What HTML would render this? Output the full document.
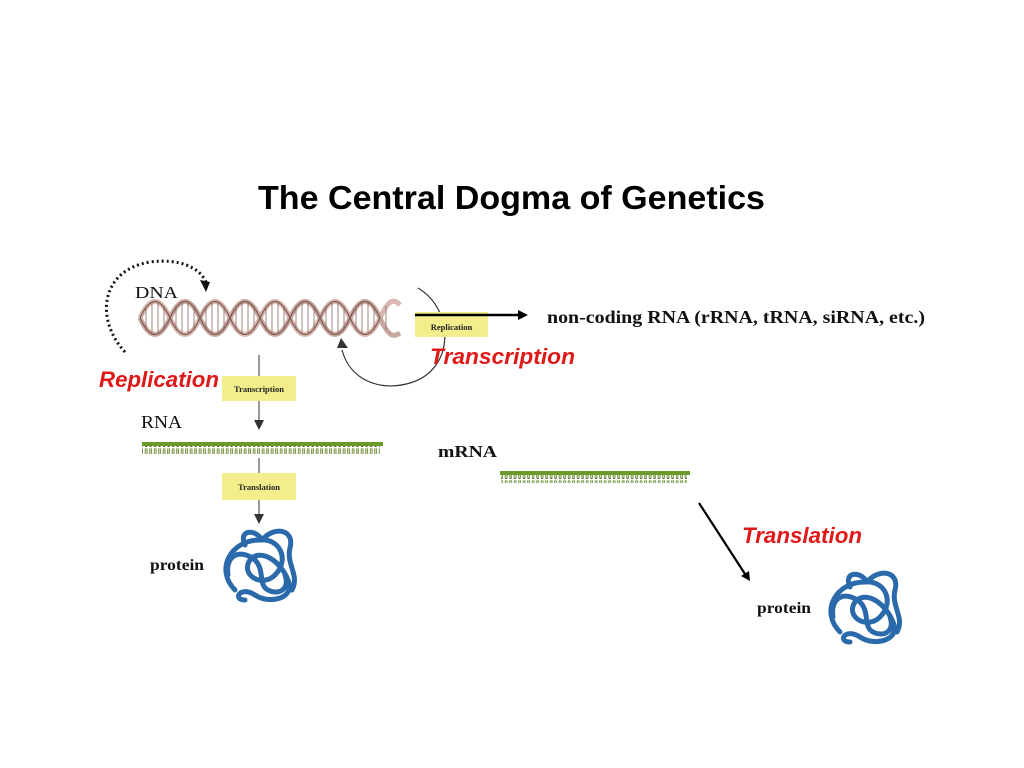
<!DOCTYPE html>
<html><head><meta charset="utf-8"><style>
body{margin:0;background:#fff;}
svg{display:block}
.s{font-family:"Liberation Serif",serif;fill:#111}
.r{font-family:"Liberation Sans",sans-serif;font-weight:bold;font-style:italic;fill:#e01818;font-size:22.5px}
.b{font-family:"Liberation Serif",serif;font-weight:bold;font-size:8.5px;fill:#222}
</style></head><body>
<svg width="1024" height="768" viewBox="0 0 1024 768">
<defs>
<pattern id="teeth" width="4.5" height="8" patternUnits="userSpaceOnUse"><rect x="0.8" y="0" width="2.6" height="7" rx="1" fill="#4a6a20"/><rect x="1.4" y="0" width="1.4" height="6" fill="#c8dca0"/></pattern>
<g id="prot" fill="none" stroke="#2a6aaa" stroke-width="5" stroke-linecap="round">
<path d="M235,590 C215,570 230,540 260,540 C280,538 290,560 275,575 C262,588 240,575 250,560 C260,548 280,560 288,580 C296,598 270,605 255,595 C240,585 232,600 245,600"/>
<path d="M262,540 C275,525 295,530 290,548 C286,565 300,575 292,590"/>
<path d="M228,575 C225,555 240,548 255,560 C265,570 258,585 268,590 C280,596 290,588 285,575"/>
<path d="M245,545 C238,530 255,528 262,540"/>
</g>
</defs>
<text x="258" y="209" font-family="Liberation Sans,sans-serif" font-weight="bold" font-size="33" fill="#000" textLength="507" lengthAdjust="spacingAndGlyphs">The Central Dogma of Genetics</text>

<path d="M125,352 C95,320 100,270 150,262 C180,258 200,268 206,282" fill="none" stroke="#111" stroke-width="3" stroke-dasharray="2,3"/>
<path d="M200,280 L210,282 L206,292 z" fill="#111"/>
<text x="135" y="298" class="s" font-size="17" textLength="43" lengthAdjust="spacingAndGlyphs">DNA</text>

<g fill="none" stroke="#7a5a50" stroke-width="1.2">
<path d="M140,318 C150,296 160,296 170,318 S190,340 200,318 S220,296 230,318 S250,340 260,318 S280,296 290,318 S310,340 320,318 S340,296 350,318 S370,340 380,318 S395,300 400,305" stroke-width="5" stroke="#d8b8b0"/>
<path d="M140,318 C150,340 160,340 170,318 S190,296 200,318 S220,340 230,318 S250,296 260,318 S280,340 290,318 S310,296 320,318 S340,340 350,318 S370,296 380,318 S395,336 400,333" stroke-width="5" stroke="#c8a8a0"/>
<path d="M140,318 C150,296 160,296 170,318 S190,340 200,318 S220,296 230,318 S250,340 260,318 S280,296 290,318 S310,340 320,318 S340,296 350,318 S370,340 380,318"/>
<path d="M140,318 C150,340 160,340 170,318 S190,296 200,318 S220,340 230,318 S250,296 260,318 S280,340 290,318 S310,296 320,318 S340,340 350,318 S370,296 380,318"/>
</g>
<g stroke="#8a6a60" stroke-width="0.8">
<path d="M146,306v24M152,302v32M158,302v32M164,306v24M176,306v24M182,302v32M188,302v32M194,306v24M206,306v24M212,302v32M218,302v32M224,306v24M236,306v24M242,302v32M248,302v32M254,306v24M266,306v24M272,302v32M278,302v32M284,306v24M296,306v24M302,302v32M308,302v32M314,306v24M326,306v24M332,302v32M338,302v32M344,306v24M356,306v24M362,302v32M368,302v32M374,306v24M386,306v24"/>
</g>

<path d="M418,288 C455,310 455,370 410,383 C380,392 350,380 342,350" fill="none" stroke="#333" stroke-width="1.2"/>
<path d="M337,348 L341,338 L348,348 z" fill="#333"/>

<rect x="415" y="312" width="73" height="25" fill="#f2ee8c"/>
<text x="451.5" y="330" class="b" text-anchor="middle">Replication</text>
<line x1="415" y1="315" x2="520" y2="315" stroke="#000" stroke-width="2.5"/>
<path d="M518,310 L528,315 L518,320 z" fill="#000"/>
<text x="547" y="323" class="s" font-weight="bold" font-size="18" textLength="378" lengthAdjust="spacingAndGlyphs">non-coding RNA (rRNA, tRNA, siRNA, etc.)</text>
<text x="430" y="364" class="r" textLength="145" lengthAdjust="spacingAndGlyphs">Transcription</text>
<text x="99" y="387" class="r" textLength="120" lengthAdjust="spacingAndGlyphs">Replication</text>

<line x1="259" y1="355" x2="259" y2="426" stroke="#555" stroke-width="1.2"/>
<path d="M254,420 L264,420 L259,430 z" fill="#333"/>
<rect x="222" y="376" width="74" height="25" fill="#f2ee8c"/>
<text x="259" y="392" class="b" text-anchor="middle">Transcription</text>
<text x="141" y="428" class="s" font-size="18" textLength="41" lengthAdjust="spacingAndGlyphs">RNA</text>

<rect x="142" y="442" width="241" height="4" fill="#6a9a2a"/>
<rect x="142" y="446" width="238" height="8" fill="url(#teeth)"/>

<line x1="259" y1="458" x2="259" y2="522" stroke="#555" stroke-width="1.2"/>
<path d="M254,514 L264,514 L259,524 z" fill="#333"/>
<rect x="222" y="473" width="74" height="27" fill="#f2ee8c"/>
<text x="259" y="490" class="b" text-anchor="middle">Translation</text>

<text x="150" y="570" class="s" font-weight="bold" font-size="16" textLength="54" lengthAdjust="spacingAndGlyphs">protein</text>
<use href="#prot"/>

<text x="438" y="457" class="s" font-weight="bold" font-size="17" textLength="59" lengthAdjust="spacingAndGlyphs">mRNA</text>
<rect x="500" y="471" width="190" height="4" fill="#6a9a2a"/>
<rect x="501" y="475" width="186" height="8" fill="url(#teeth)"/>

<line x1="699" y1="503" x2="745" y2="574" stroke="#000" stroke-width="2.2"/>
<path d="M741,576 L749,571 L750,581 z" fill="#000"/>
<text x="742" y="543" class="r" textLength="120" lengthAdjust="spacingAndGlyphs">Translation</text>

<text x="757" y="613" class="s" font-weight="bold" font-size="16" textLength="54" lengthAdjust="spacingAndGlyphs">protein</text>
<use href="#prot" transform="translate(605,42)"/>
</svg>
</body></html>
